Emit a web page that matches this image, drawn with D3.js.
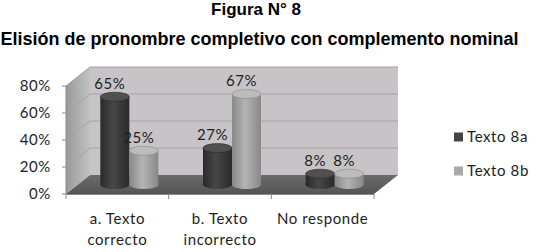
<!DOCTYPE html>
<html><head><meta charset="utf-8">
<script src="https://cdn.jsdelivr.net/npm/d3@7"></script>
<style>
body{margin:0;background:#fff;}
svg{display:block;}
.lbl{font-family:Lato,"Open Sans",sans-serif;font-size:15px;fill:#1e1e1e;letter-spacing:0.6px;}
.title{font-family:"Liberation Sans",Arial,sans-serif;font-weight:bold;fill:#000;}
</style></head>
<body>
<script>
const title1 = "Figura N° 8";
const title2 = "Elisión de pronombre completivo con complemento nominal";
const categories = [["a. Texto","correcto"],["b. Texto","incorrecto"],["No responde"]];
const catKeys = ["a","b","c"];
const seriesNames = ["Texto 8a","Texto 8b"];
const texto8a = [0.65,0.27,0.08];
const texto8b = [0.25,0.67,0.08];
const yTicks = [0,0.2,0.4,0.6,0.8];
const seriesColors = [{dark:"#2a2a2a",mid:"#474747",top:"#505050"},{dark:"#888888",mid:"#b4b4b4",top:"#bcbcbc"}];

const W=541,H=252;
const svg=d3.select("body").append("svg").attr("width",W).attr("height",H);
const defs=svg.append("defs");

// geometry
const x0=66,x1=374,yBase=194,yTop=86;
const DX=24,DY=-19;
const y=d3.scaleLinear().domain([0,0.8]).range([yBase,yTop]);
const x=d3.scaleBand().domain(catKeys).range([x0,x1]).paddingInner(0.435).paddingOuter(0.2175);
const xs=d3.scaleBand().domain([0,1]).range([0,x.bandwidth()]);

// gradients
const g1=defs.append("linearGradient").attr("id","side").attr("x1",0).attr("x2",1).attr("y1",0).attr("y2",0);
g1.append("stop").attr("offset","0").attr("stop-color","#9a9a9a");
g1.append("stop").attr("offset","1").attr("stop-color","#c2c2c2");
const g2=defs.append("linearGradient").attr("id","floor").attr("x1",0).attr("x2",0).attr("y1",0).attr("y2",1);
g2.append("stop").attr("offset","0").attr("stop-color","#6a6a6a");
g2.append("stop").attr("offset","1").attr("stop-color","#555");
seriesColors.forEach((c,i)=>{
  const g=defs.append("linearGradient").attr("id","cyl"+i).attr("x1",0).attr("x2",1).attr("y1",0).attr("y2",0);
  g.append("stop").attr("offset","0").attr("stop-color",c.dark);
  g.append("stop").attr("offset","0.45").attr("stop-color",c.mid);
  g.append("stop").attr("offset","1").attr("stop-color",c.dark);
});

// back wall
svg.append("rect").attr("x",x0+DX).attr("y",y(0.8)+DY).attr("width",x1-x0).attr("height",y(0)-y(0.8))
  .attr("fill","#c7c3c7");
// side wall
svg.append("path").attr("d",`M${x0},${y(0.8)}L${x0+DX},${y(0.8)+DY}L${x0+DX},${y(0)+DY}L${x0},${y(0)}Z`).attr("fill","url(#side)");
// gridlines
yTicks.forEach(t=>{
  if(t===0) return;
  svg.append("path").attr("d",`M${x0},${y(t)}L${x0+DX},${y(t)+DY}L${x1+DX},${y(t)+DY}`)
    .attr("fill","none").attr("stroke","#a4a2a4").attr("stroke-width",1);
});
// floor
svg.append("path").attr("d",`M${x0},${y(0)}L${x1},${y(0)}L${x1+DX},${y(0)+DY}L${x0+DX},${y(0)+DY}Z`).attr("fill","url(#floor)");

// axes
const ax=svg.append("g");
ax.append("line").attr("x1",x0).attr("x2",x0).attr("y1",y(0.8)).attr("y2",y(0)).attr("stroke","#888");
ax.append("line").attr("x1",x0).attr("x2",x1).attr("y1",y(0)+0.5).attr("y2",y(0)+0.5).attr("stroke","#888");
yTicks.forEach(t=>{
  ax.append("line").attr("x1",x0-4).attr("x2",x0).attr("y1",y(t)).attr("y2",y(t)).attr("stroke","#888");
  ax.append("text").attr("class","lbl").attr("x",x0-15).attr("y",y(t)).attr("dy","0.36em").attr("text-anchor","end")
    .text(d3.format(".0%")(t));
});
const stepX=(x1-x0)/catKeys.length;
d3.range(catKeys.length+1).forEach(i=>{
  ax.append("line").attr("x1",x0+i*stepX).attr("x2",x0+i*stepX).attr("y1",y(0)).attr("y2",y(0)+5).attr("stroke","#888");
});
categories.forEach((lines,i)=>{
  const cx=x0+stepX*(i+0.5);
  const t=ax.append("text").attr("class","lbl").attr("text-anchor","middle");
  lines.forEach((ln,j)=>t.append("tspan").attr("x",cx).attr("y",224+j*21).text(ln));
});

// bars (cylinders) at mid depth
const mdx=DX/2,mdy=DY/2;
const data=[];
catKeys.forEach((k,i)=>{[texto8a,texto8b].forEach((s,si)=>data.push({k,si,v:s[i]}));});
const ry=4.5;
data.forEach(d=>{
  const bx=x(d.k)+xs(d.si)+mdx, bw=xs.bandwidth();
  const yb=y(0)+mdy, yt=y(d.v)+mdy;
  const c=seriesColors[d.si];
  const g=svg.append("g");
  g.append("ellipse").attr("cx",bx+bw/2).attr("cy",yb).attr("rx",bw/2).attr("ry",ry).attr("fill","url(#cyl"+d.si+")");
  g.append("rect").attr("x",bx).attr("y",yt).attr("width",bw).attr("height",yb-yt).attr("fill","url(#cyl"+d.si+")");
  g.append("ellipse").attr("cx",bx+bw/2).attr("cy",yt).attr("rx",bw/2).attr("ry",ry).attr("fill",c.top)
    .attr("stroke",c.dark).attr("stroke-width",0.6);
});
// data labels
data.forEach(d=>{
  const bx=x(d.k)+xs(d.si)+mdx+xs.bandwidth()/2;
  svg.append("text").attr("class","lbl").attr("x",bx-5).attr("y",y(d.v)+DY-4).attr("dy","0.36em")
    .attr("text-anchor","middle").text(d3.format(".0%")(d.v));
});

// legend
seriesNames.forEach((n,i)=>{
  const ly=137+i*34;
  svg.append("rect").attr("x",454).attr("y",ly-4.5).attr("width",9).attr("height",9).attr("fill",i?"#a8a8a8":"#444");
  svg.append("text").attr("class","lbl").attr("x",467).attr("y",ly).attr("dy","0.36em").text(n);
});

// titles
svg.append("text").attr("class","title").attr("x",256).attr("y",9).attr("dy","0.36em").attr("text-anchor","middle")
  .style("font-size","17px").text(title1);
svg.append("text").attr("class","title").attr("x",259.5).attr("y",38.5).attr("dy","0.36em").attr("text-anchor","middle")
  .style("font-size","18px").text(title2);
</script>
</body></html>
